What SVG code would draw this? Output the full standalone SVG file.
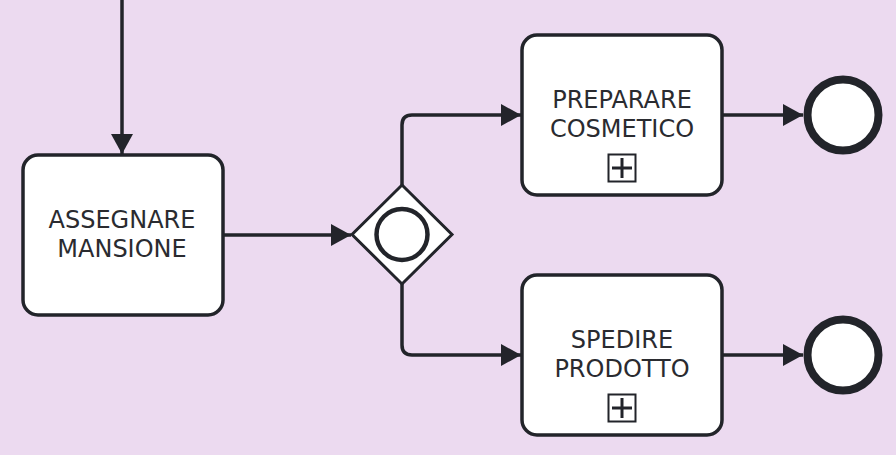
<svg xmlns="http://www.w3.org/2000/svg" width="896" height="455" viewBox="0 0 896 455">
<style>
.task{fill:#ffffff;stroke:#22242a;stroke-width:3.5}
.lbl{font-family:"DejaVu Sans",sans-serif;font-size:24px;fill:#2a2b30;text-anchor:middle}
.conn{fill:none;stroke:#22242a;stroke-width:3.5}
.mk{fill:none;stroke:#22242a;stroke-width:2}
.mkp{stroke:#22242a;stroke-width:3}
.end{fill:#ffffff;stroke:#22242a;stroke-width:8}
</style>
<defs>
<marker id="arr" viewBox="0 0 20 22" refX="20" refY="11" markerWidth="20" markerHeight="22" markerUnits="userSpaceOnUse" orient="auto">
<path d="M0,0 L20,11 L0,22 Z" fill="#22242a"/>
</marker>
</defs>
<rect width="896" height="455" fill="#ecdaf0"/>
<g id="connectors">
<path class="conn" d="M122,0 V154" marker-end="url(#arr)"/>
<path class="conn" d="M223,235 H351" marker-end="url(#arr)"/>
<path class="conn" d="M402,185 V125 Q402,115 412,115 H521" marker-end="url(#arr)"/>
<path class="conn" d="M402,284 V345 Q402,355 412,355 H521" marker-end="url(#arr)"/>
<path class="conn" d="M723,115 H803" marker-end="url(#arr)"/>
<path class="conn" d="M723,355 H803" marker-end="url(#arr)"/>
</g>
<g id="task-assegnare">
<rect class="task" x="23" y="155" width="200" height="160" rx="15"/>
<text class="lbl" x="122" y="228">ASSEGNARE</text>
<text class="lbl" x="122" y="257">MANSIONE</text>
</g>
<g id="gateway">
<path d="M402,185 L452,234.5 L402,284 L352,234.5 Z" fill="#ffffff" stroke="#22242a" stroke-width="3"/>
<circle cx="402" cy="234.5" r="25.5" fill="#ffffff" stroke="#22242a" stroke-width="4.5"/>
</g>
<g id="task-preparare">
<rect class="task" x="522" y="35" width="200" height="160" rx="15"/>
<text class="lbl" x="622" y="108">PREPARARE</text>
<text class="lbl" x="622" y="137">COSMETICO</text>
<rect class="mk" x="608.5" y="154.5" width="27" height="27"/>
<path class="mkp" d="M612,168 H632 M622,158 V178"/>
</g>
<g id="task-spedire">
<rect class="task" x="522" y="275" width="200" height="160" rx="15"/>
<text class="lbl" x="622" y="348">SPEDIRE</text>
<text class="lbl" x="622" y="377">PRODOTTO</text>
<rect class="mk" x="608.5" y="394.5" width="27" height="27"/>
<path class="mkp" d="M612,408 H632 M622,398 V418"/>
</g>
<g id="end-1">
<circle class="end" cx="843" cy="115" r="35.5"/>
</g>
<g id="end-2">
<circle class="end" cx="843" cy="355" r="35.5"/>
</g>
</svg>
